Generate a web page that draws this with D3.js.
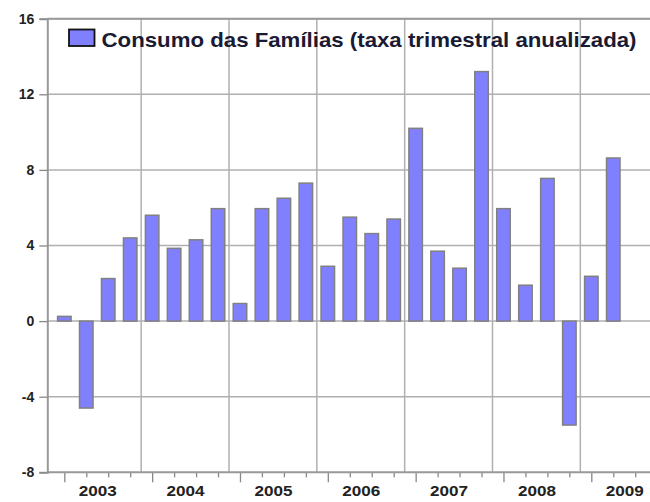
<!DOCTYPE html>
<html><head><meta charset="utf-8">
<script src="https://cdn.jsdelivr.net/npm/d3@7"></script>
<style>
html,body{margin:0;padding:0;background:#fff;}
svg{display:block;}
text{font-family:"Liberation Sans",Arial,sans-serif;}
</style></head>
<body>
<svg id="chart" width="650" height="502"></svg>
<script>
const quarters = ["2003Q1","2003Q2","2003Q3","2003Q4","2004Q1","2004Q2","2004Q3","2004Q4",
  "2005Q1","2005Q2","2005Q3","2005Q4","2006Q1","2006Q2","2006Q3","2006Q4",
  "2007Q1","2007Q2","2007Q3","2007Q4","2008Q1","2008Q2","2008Q3","2008Q4",
  "2009Q1","2009Q2"];
const consumo = [0.25,-4.6,2.25,4.4,5.6,3.85,4.3,5.95,
  0.93,5.95,6.5,7.3,2.9,5.5,4.63,5.4,
  10.2,3.7,2.8,13.2,5.95,1.9,7.55,-5.5,
  2.37,8.63];
const years = ["2003","2004","2005","2006","2007","2008","2009"];
const yTicks = [-8,-4,0,4,8,12,16];
const legendLabel = "Consumo das Famílias (taxa trimestral anualizada)";

const svg = d3.select("#chart");
const pLeft = 47.3, pBottom = 472.3, pTop = 18.7, pRight = 648.4;

const x = d3.scaleLinear().domain([-0.775, 26.6]).range([pLeft, pRight]);
const y = d3.scaleLinear().domain([-8, 16]).range([pBottom, pTop]);

const gridColor = "#b0b0b0";

// horizontal grid
svg.append("g").selectAll("line").data(yTicks.filter(v => v > -8))
  .join("line")
  .attr("x1", pLeft).attr("x2", 650)
  .attr("y1", d => y(d)).attr("y2", d => y(d))
  .attr("stroke", gridColor).attr("stroke-width", 1.5);

// vertical year separators
const seps = d3.range(3.5, 24, 4);
svg.append("g").selectAll("line").data(seps)
  .join("line")
  .attr("x1", d => x(d)).attr("x2", d => x(d))
  .attr("y1", pTop).attr("y2", pBottom)
  .attr("stroke", gridColor).attr("stroke-width", 1.5);

// bars
const bw = 13.5;
svg.append("g").selectAll("rect").data(consumo)
  .join("rect")
  .attr("x", (d, i) => x(i) - bw / 2)
  .attr("width", bw)
  .attr("y", d => y(Math.max(0, d)))
  .attr("height", d => Math.abs(y(d) - y(0)))
  .attr("fill", "#8080ff")
  .attr("stroke", "#808080")
  .attr("stroke-width", 1.5);

// left axis
const yAxis = svg.append("g").attr("transform", `translate(${pLeft},0)`)
  .call(d3.axisLeft(y).tickValues(yTicks).tickSize(8).tickPadding(5).tickFormat(d => String(d)));
yAxis.select(".domain").attr("stroke", "#999").attr("stroke-width", 2);
yAxis.selectAll(".tick line").attr("stroke", "#888").attr("stroke-width", 1.3);
yAxis.selectAll(".tick text").attr("font-size", 14).attr("font-weight", "bold").attr("fill", "#222");

// bottom axis: quarter ticks
const tickIdx = d3.range(0, 27);
const q1 = tickIdx.filter(i => i % 4 === 0);
const qo = tickIdx.filter(i => i % 4 !== 0);
const xAxisLong = svg.append("g").attr("transform", `translate(0,${pBottom})`)
  .call(d3.axisBottom(x).tickValues(q1).tickSize(10).tickFormat(""));
xAxisLong.select(".domain").remove();
xAxisLong.selectAll(".tick line").attr("stroke", "#888").attr("stroke-width", 1.3);
const xAxisShort = svg.append("g").attr("transform", `translate(0,${pBottom})`)
  .call(d3.axisBottom(x).tickValues(qo).tickSize(5).tickFormat(""));
xAxisShort.select(".domain").remove();
xAxisShort.selectAll(".tick line").attr("stroke", "#888").attr("stroke-width", 1.3);

// year labels
const yearCenters = years.map((yr, k) => k * 4 + 1.5);
const xAxisYears = svg.append("g").attr("transform", `translate(0,${pBottom})`)
  .call(d3.axisBottom(x).tickValues(yearCenters).tickSize(0).tickPadding(14)
    .tickFormat((d, k) => years[k]));
xAxisYears.select(".domain").remove();
xAxisYears.selectAll(".tick text").attr("font-size", 14).attr("font-weight", "bold").attr("fill", "#222")
  .attr("textLength", 38).attr("lengthAdjust", "spacingAndGlyphs");

// frame lines (bottom + top)
svg.append("line").attr("x1", pLeft).attr("x2", 650).attr("y1", pBottom).attr("y2", pBottom)
  .attr("stroke", "#999").attr("stroke-width", 2);
svg.append("line").attr("x1", pLeft).attr("x2", 650).attr("y1", pTop).attr("y2", pTop)
  .attr("stroke", "#999").attr("stroke-width", 2);

// legend
const lg = svg.append("g");
lg.append("rect").attr("x", 69).attr("y", 29.5).attr("width", 25.5).attr("height", 16.5)
  .attr("fill", "#8080ff").attr("stroke", "#111").attr("stroke-width", 1.8);
lg.append("text").attr("x", 101.5).attr("y", 46.5)
  .attr("font-size", 20.5).attr("font-weight", "bold").attr("fill", "#1a1a33")
  .attr("textLength", 535).attr("lengthAdjust", "spacingAndGlyphs")
  .text(legendLabel);
</script>
</body></html>
